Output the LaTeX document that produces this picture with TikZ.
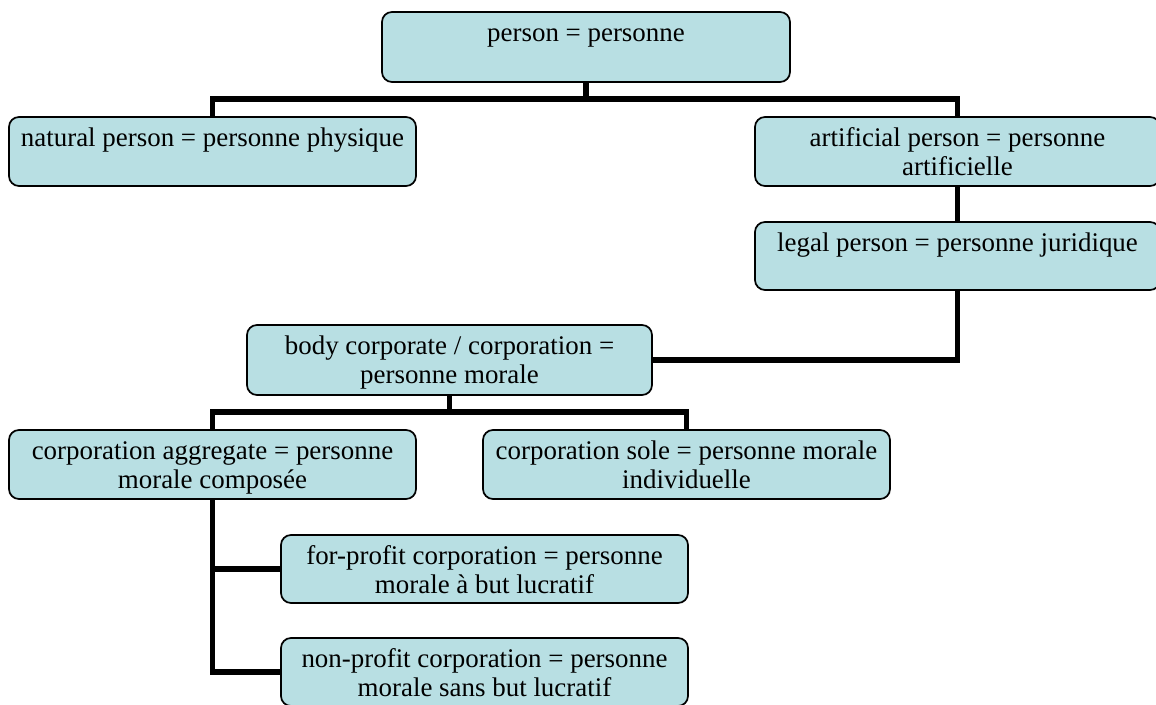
\documentclass[tikz,border=0pt]{standalone}
\usepackage{fontspec}
\setmainfont{Liberation Serif}
\usetikzlibrary{backgrounds}
\definecolor{boxfill}{RGB}{184,223,227}
\newlength\obw
\newlength\obh
\newcommand\orgbox[6]{%
  \pgfmathsetlength\obw{(#4-#2)*0.75pt}%
  \pgfmathsetlength\obh{(#5-#3)*0.75pt}%
  \node[obox, minimum width=\obw, minimum height=\obh] (#1) at ({(#2+#4)/2},{(#3+#5)/2})
    {\parbox[c][\obh][t]{\dimexpr\obw-10.5pt\relax}{\centering\vspace*{6.4pt}\strut #6\par}};}
\begin{document}
\begin{tikzpicture}[x=0.75pt,y=-0.75pt,
  obox/.style={draw=black, line width=1.3pt, fill=boxfill, rounded corners=7.5pt,
    inner sep=0pt, outer sep=0pt, font=\fontsize{20.2}{22.1}\selectfont},
  conn/.style={draw=black, line width=4.4pt, line join=miter}]
\useasboundingbox (0,0) rectangle (1156,705);
\orgbox{person}{382}{12}{790}{82}{person = personne}
\orgbox{natural}{9}{117}{416}{186}{natural person = personne physique}
\orgbox{artificial}{755}{117}{1160}{186}{artificial person = personne artificielle}
\orgbox{legal}{755}{222}{1160}{290}{legal person = personne juridique}
\orgbox{body}{247}{325}{652}{395}{body corporate / corporation = personne morale}
\orgbox{aggregate}{9}{430}{416}{499}{corporation aggregate = personne morale composée}
\orgbox{sole}{483}{430}{890}{499}{corporation sole = personne morale individuelle}
\orgbox{forprofit}{281}{535}{688}{603}{for-profit corporation = personne morale à but lucratif}
\orgbox{nonprofit}{281}{638}{688}{706}{non-profit corporation = personne morale sans but lucratif}
\begin{scope}[on background layer]
\draw[conn] (person.south) -- ++(0,17) coordinate (pbar);
\draw[conn] (natural.north) -- ++(0,-18) -| (artificial.north);
\draw[conn] (artificial.south) -- (legal.north);
\draw[conn] (legal.south) |- (body.east);
\draw[conn] (body.south) -- ++(0,17);
\draw[conn] (aggregate.north) -- ++(0,-18) -| (sole.north);
\draw[conn] (aggregate.south) |- (nonprofit.west);
\draw[conn] (aggregate.south |- forprofit.west) -- (forprofit.west);
\end{scope}
\end{tikzpicture}
\end{document}
